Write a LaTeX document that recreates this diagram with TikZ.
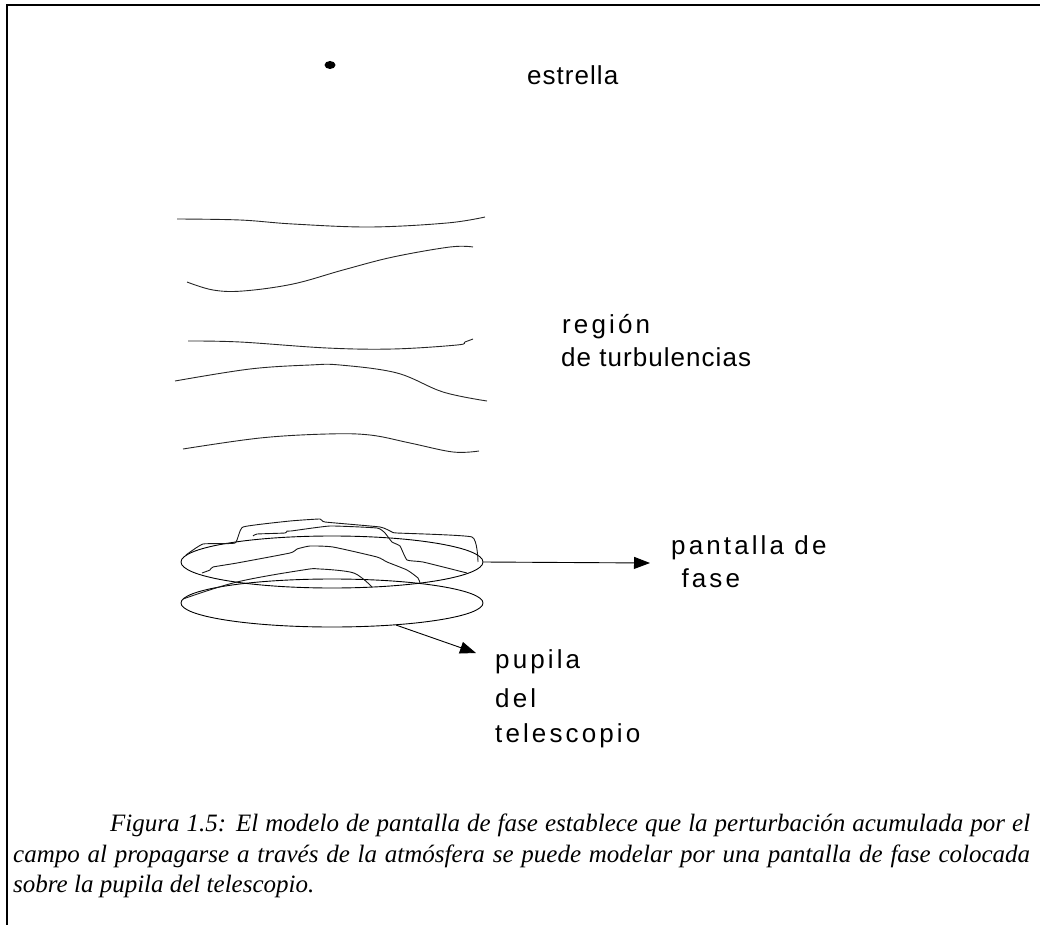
\documentclass[tikz,border=0pt]{standalone}
\usepackage{fontspec}
\usetikzlibrary{shapes.geometric,arrows.meta}
\setmainfont{Liberation Serif}
\newfontfamily\labelfont[LetterSpace=12]{Liberation Sans}
\newfontfamily\tightfont[LetterSpace=4]{Liberation Sans}

\tikzset{
  frameline/.style={line width=1.6pt, black},
  wave/.style={line width=0.9pt, black!85},
  rim/.style={draw, ellipse, line width=0.9pt, inner sep=0pt},
  crack/.style={line width=0.9pt, black!90, line join=round},
  pointer/.style={line width=0.9pt, -{Triangle[length=16pt,width=12pt]}},
  tag/.style={anchor=base west, inner sep=0pt, font=\labelfont\fontsize{26}{30}\selectfont},
  tighttag/.style={anchor=base west, inner sep=0pt, font=\tightfont\fontsize{26}{30}\selectfont},
  captionline/.style={anchor=base west, inner sep=0pt, font=\itshape\fontsize{25}{30}\selectfont}
}

\begin{document}
\begin{tikzpicture}[x=1pt, y=-1pt]
\useasboundingbox (0,0) rectangle (1040,925);

% page frame: top rule and left rule only
\draw[frameline] (7,925) -- (7,5) -- (1040,5);

% the star
\fill (330,65) ellipse [x radius=5.5, y radius=4];
\node[tighttag] (star) at (527,85) {estrella};

% turbulent layers
\draw[wave] plot[smooth, tension=0.6] coordinates {(177,219) (240,220) (293,224) (370,227) (447,223) (485,217)};
\draw[wave] plot[smooth, tension=0.6] coordinates {(187,282) (213,290) (243,291) (293,284) (343,270) (393,257) (450,247) (473,247)};
\draw[wave] plot[smooth, tension=0.6] coordinates {(188,341) (240,342) (327,348) (393,349) (457,345) (465,342) (473,339)};
\draw[wave] plot[smooth, tension=0.6] coordinates {(175,381) (250,369) (310,365) (340,365) (397,373) (443,392) (487,401)};
\draw[wave] plot[smooth, tension=0.6] coordinates {(183,449) (260,438) (327,434) (370,435) (410,443) (453,452) (479,451)};

\node[tag] (turb1) at (562,333) {región};
\node[tighttag] (turb2) at (561,366) {de turbulencias};

% phase screen and telescope pupil
\node[rim, minimum width=302pt, minimum height=52pt] (screen) at (332,562) {};
\node[rim, minimum width=302pt, minimum height=48pt] (pupil) at (332,603) {};

% wrinkled phase front lying on the screen
\draw[crack] plot[smooth, tension=0.25] coordinates {(186,555) (203,544) (235,543) (243,527) (290,521) (320,519) (325,522) (380,527) (392,532) (397,533) (472,537) (478,562)};
\draw[crack] plot[smooth, tension=0.25] coordinates {(253,536) (257,534) (285,533) (287,531) (291,531) (330,526) (377,528) (385,533) (392,542) (400,546) (407,560) (423,562) (467,573)};
\draw[crack] plot[smooth, tension=0.3] coordinates {(202,573) (210,570) (213,567) (237,563) (290,553) (297,549) (310,546) (333,547) (377,557) (387,562) (407,570) (418,578) (420,583)};
\draw[crack] plot[smooth, tension=0.6] coordinates {(183,599) (237,582) (303,570) (320,569) (350,572) (362,578) (372,587)};

% labels and pointers
\node[tag] (scr1) at (671,554) {pantalla de};
\node[tag] (scr2) at (671,587) {\ fase};
\coordinate (scrtip) at (650,563);
\draw[pointer] (screen.east) -- (scrtip);

\node[tag] (pup1) at (495,668) {pupila};
\node[tag] (pup2) at (495,707) {del};
\node[tag] (pup3) at (495,742) {telescopio};
\coordinate (puptip) at (476,653);
\draw[pointer] (pupil.-19.5) -- (puptip);

% caption
\node[captionline] (cap1) at (110,831) {\makebox[920pt][s]{Figura 1.5: El modelo de pantalla de fase establece que la perturbación acumulada por el}};
\node[captionline] (cap2) at (13,862) {\makebox[1017pt][s]{campo al propagarse a través de la atmósfera se puede modelar por una pantalla de fase colocada}};
\node[captionline] (cap3) at (13,892) {sobre la pupila del telescopio.};
\end{tikzpicture}
\end{document}
